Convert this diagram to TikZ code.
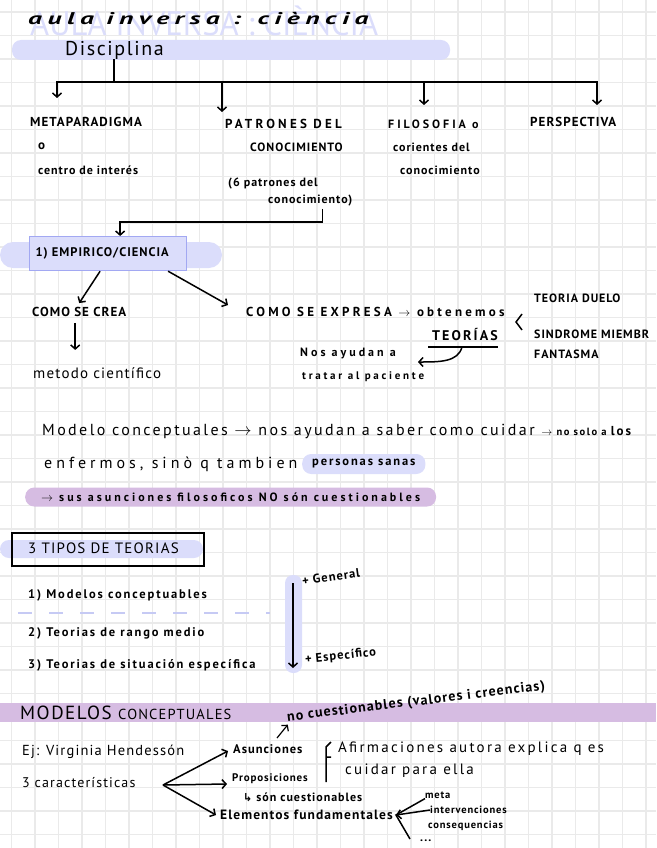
\documentclass[tikz,border=0pt]{standalone}
\usepackage{amsmath,amssymb}
\usepackage{fontspec}
\setmainfont{PT Sans}
\newfontfamily\scrawlfont[LetterSpace=20]{PT Sans}
\newfontfamily\widefont[LetterSpace=8]{PT Sans}
\newfontfamily\midfont[LetterSpace=15]{PT Sans}
\newfontfamily\spacedfont[LetterSpace=25]{PT Sans}
\newfontfamily\symfont{DejaVu Sans}
\usepackage{tikz}
\usetikzlibrary{arrows.meta}

\definecolor{lavender}{RGB}{219,221,251}
\definecolor{lilac}{RGB}{214,188,226}
\definecolor{gridgray}{RGB}{234,234,234}
\definecolor{boxblue}{RGB}{162,168,242}
\definecolor{dashblue}{RGB}{198,202,244}

\tikzset{
  note/.style={anchor=west, inner sep=0pt, font=\widefont\fontsize{15}{17}\selectfont},
  capsnote/.style={note, font=\widefont\bfseries\fontsize{13}{15}\selectfont},
  tiny/.style={note, font=\widefont\bfseries\fontsize{12}{14}\selectfont},
  midnote/.style={note, font=\midfont\bfseries\fontsize{12.5}{14}\selectfont},
  spaced/.style={note, font=\spacedfont\bfseries\fontsize{12}{14}\selectfont},
  link/.style={-{Straight Barb[length=4pt,width=9pt]}, line width=1.5pt},
  plain/.style={line width=1.5pt},
}

\begin{document}
\begin{tikzpicture}[x=1pt,y=-1pt]
  \useasboundingbox (0,0) rectangle (656,848);
  % squared paper
  \foreach \gx in {0,...,27}
    \draw[gridgray, line width=1.4pt] (11.5+23.5*\gx,0) -- ++(0,848);
  \foreach \gy in {0,...,35}
    \draw[gridgray, line width=1.4pt] (0,12+23.5*\gy) -- ++(656,0);

  % title
  \node[anchor=west, inner sep=0pt, text=lavender, font=\fontsize{34}{36}\selectfont] (titlebg) at (30,21)
    {\scalebox{0.96}[1]{AULA INVERSA : CIÈNCIA}};
  \node[anchor=west, inner sep=0pt, font=\scrawlfont\bfseries\itshape\fontsize{17}{18}\selectfont] (title) at (28,19)
    {\scalebox{1.62}[1]{aula inversa : ciència}};

  \fill[lavender, rounded corners=9pt] (12,40) rectangle (450,60);
  \node[note, font=\widefont\fontsize{20}{22}\selectfont] (disc) at (65,50) {Disciplina};

  % four branches
  \coordinate (hub) at (114,82);
  \coordinate (tmeta) at (57,98);
  \coordinate (tpatr) at (222,112);
  \coordinate (tfilo) at (424,105);
  \coordinate (tpers) at (597,105);
  \draw[plain] (disc.south -| hub) -- (hub);
  \draw[link] (hub) -| (tmeta);
  \draw[link] (hub) -| (tpatr);
  \draw[link] (hub) -| (tfilo);
  \draw[link] (hub) -| (tpers);

  \node[capsnote] (meta) at (30,122) {METAPARADIGMA};
  \node[capsnote] (metao) at (38,146) {o};
  \node[tiny] (centro) at (38,170) {centro de interés};
  \node[spaced, font=\spacedfont\bfseries\fontsize{13}{15}\selectfont] (patr1) at (225,124) {PATRONES DEL};
  \node[tiny] (patr2) at (250,147) {CONOCIMIENTO};
  \node[tiny] (patr3) at (228,184) {(6 patrones del};
  \node[tiny] (patr4) at (268,201) {conocimiento)};
  \node[spaced] (filo1) at (388,124) {FILOSOFIA o};
  \node[tiny] (filo2) at (393,147) {corientes del};
  \node[tiny] (filo3) at (400,170) {conocimiento};
  \node[capsnote] (pers) at (530,122) {PERSPECTIVA};

  % empirico / ciencia
  \fill[lavender, rounded corners=13pt] (0,242) rectangle (222,268);
  \node[draw=boxblue, fill=lavender, line width=1.2pt, anchor=north west, minimum width=157pt,
        minimum height=34pt, inner xsep=6pt, text width=145pt, align=left,
        font=\widefont\bfseries\fontsize{12.5}{14}\selectfont] (emp) at (29,236) {1) EMPIRICO/CIENCIA};
  \draw[link] ([xshift=12pt]patr4.south) ++(0,2) -- ++(0,13) -| ([xshift=12pt]emp.north);

  \node[capsnote] (crea) at (32,312) {COMO SE CREA};
  \node[note] (metodo) at (33,373) {metodo científico};
  \node[spaced, font=\spacedfont\bfseries\fontsize{13}{15}\selectfont] (expr) at (246,312) {COMO SE EXPRESA $\rightarrow$ obtenemos};
  \node[note, font=\midfont\bfseries\fontsize{14}{16}\selectfont] (teo) at (432,335) {TEORÍAS};
  \draw[plain] (428,347) -- (498,347);
  \coordinate (ttip) at (418,362);
  \draw[link] (462,347) .. controls (458,362) and (440,362) .. (ttip);
  \node[spaced] (nos) at (300,353) {Nos ayudan a};
  \node[spaced, font=\spacedfont\bfseries\fontsize{11}{13}\selectfont] (trat) at (302,377) {tratar al paciente};
  \draw[plain] (522,314) -- (516,322) -- (522,330);
  \node[tiny] (duelo) at (534,298) {TEORIA DUELO};
  \node[tiny] (sind) at (534,334) {SINDROME MIEMBR};
  \node[tiny] (fant) at (534,354) {FANTASMA};

  \draw[link] ([xshift=-8pt]emp.south) -- ([yshift=4pt]crea.north);
  \draw[link] ([xshift=60pt]emp.south) -- ([xshift=-18pt,yshift=7pt]expr.west);
  \draw[link] ([xshift=-4pt,yshift=-6pt]crea.south) -- ([xshift=-4pt,yshift=-33pt]crea.south);

  % modelos conceptuales
  \node[note, font=\midfont\fontsize{16}{18}\selectfont] (mod1) at (42,431)
    {Modelo conceptuales $\rightarrow$ nos ayudan a saber como cuidar {\bfseries\fontsize{10.5}{12}\selectfont$\rightarrow$ no solo a {\fontsize{13}{14}\selectfont los}}};
  \node[note, font=\spacedfont\fontsize{16}{18}\selectfont] (mod2) at (44,464) {enfermos, sinò q tambien en};
  \node[midnote, font=\midfont\bfseries\fontsize{12.5}{14}\selectfont, fill=lavender, rounded corners=9pt,
        inner xsep=10pt, minimum height=20pt] (sanas) at (302,464) {personas sanas};
  \node[spaced, fill=lilac, rounded corners=9pt, inner xsep=16pt, minimum height=19pt] (asun) at (25,497)
    {$\rightarrow$ sus asunciones filosoficos NO són cuestionables};

  % tipos de teorias
  \fill[lavender, rounded corners=9pt] (0,540) rectangle (203,558);
  \draw[line width=2.2pt] (12,533) rectangle (204,566);
  \node[note, font=\widefont\fontsize{15}{17}\selectfont] (tipos) at (28,548) {3 TIPOS DE TEORIAS};
  \node[midnote] (t1) at (28,595) {1) Modelos conceptuables};
  \draw[dashblue, line width=2pt, dash pattern=on 14pt off 17pt] (18,613) -- (270,613);
  \node[midnote] (t2) at (28,633) {2) Teorias de rango medio};
  \node[midnote] (t3) at (28,665) {3) Teorias de situación específica};
  \fill[lavender, rounded corners=8pt] (285,575) rectangle (302,673);
  \coordinate (gtop) at (293,583);
  \coordinate (gbot) at (293,668);
  \draw[link] (gtop) -- (gbot);
  \node[tiny, rotate=8, font=\widefont\bfseries\fontsize{12.5}{14}\selectfont] (gen) at (302,581) {+ General};
  \node[tiny, rotate=6, font=\widefont\bfseries\fontsize{12.5}{14}\selectfont] (esp) at (305,660) {+ Específico};

  \fill[lilac] (0,703) rectangle (656,722);
  \node[note, font=\widefont\fontsize{19}{21}\selectfont] (modc) at (20,713)
    {MODELOS {\fontsize{14.5}{16}\selectfont CONCEPTUALES}};
  \node[tiny, rotate=7, font=\widefont\bfseries\fontsize{14}{16}\selectfont] (noc) at (287,718) {no cuestionables (valores i creencias)};
  \draw[link, line width=1.2pt] (277,738) -- (noc.south west);

  \node[note, font=\widefont\fontsize{14.5}{16}\selectfont] (ej) at (22,752) {Ej: Virginia Hendessón};
  \node[note, font=\widefont\fontsize{14}{16}\selectfont] (car) at (22,783) {3 características};
  \node[tiny, font=\widefont\bfseries\fontsize{12.5}{14}\selectfont] (asu) at (233,749) {Asunciones};
  \node[tiny, font=\widefont\bfseries\fontsize{11}{13}\selectfont] (prop) at (232,779) {Proposiciones};
  \node[tiny] (cues) at (243,797) {{\symfont\fontsize{11}{13}\selectfont ↳} són cuestionables};
  \node[tiny, font=\widefont\bfseries\fontsize{13.5}{15}\selectfont] (elem) at (220,815) {Elementos fundamentales};
  \coordinate (cfork) at (163,785);
  \draw[link] (cfork) -- ([xshift=-5pt,yshift=-2pt]asu.west);
  \draw[link] (cfork) -- ([xshift=-5pt,yshift=-5pt]prop.west);
  \draw[link] (cfork) -- ([xshift=-4pt]elem.west);
  \draw[plain] (331,742) -- (326,747) -- (326,782) (326,757) -- (331,757);
  \node[note, font=\midfont\fontsize{15}{17}\selectfont] (afir) at (338,749) {Afirmaciones autora explica q es};
  \node[note, font=\midfont\fontsize{15}{17}\selectfont] (cuid) at (345,771) {cuidar para ella};

  \node[tiny, font=\widefont\bfseries\fontsize{10.5}{12}\selectfont] (metan) at (425,795) {meta};
  \node[tiny, font=\widefont\bfseries\fontsize{10.5}{12}\selectfont] (interv) at (430,810) {intervenciones};
  \node[tiny, font=\widefont\bfseries\fontsize{10.5}{12}\selectfont] (conse) at (428,826) {consequencias};
  \node[tiny] (dots) at (420,841) {...};
  \coordinate (dtail) at (410,839);
  \draw[link] (interv.west) -- ([xshift=3pt]elem.east);
  \draw[plain] (metan.south west) -- ([xshift=3pt]elem.east) -- (dtail);
\end{tikzpicture}
\end{document}
